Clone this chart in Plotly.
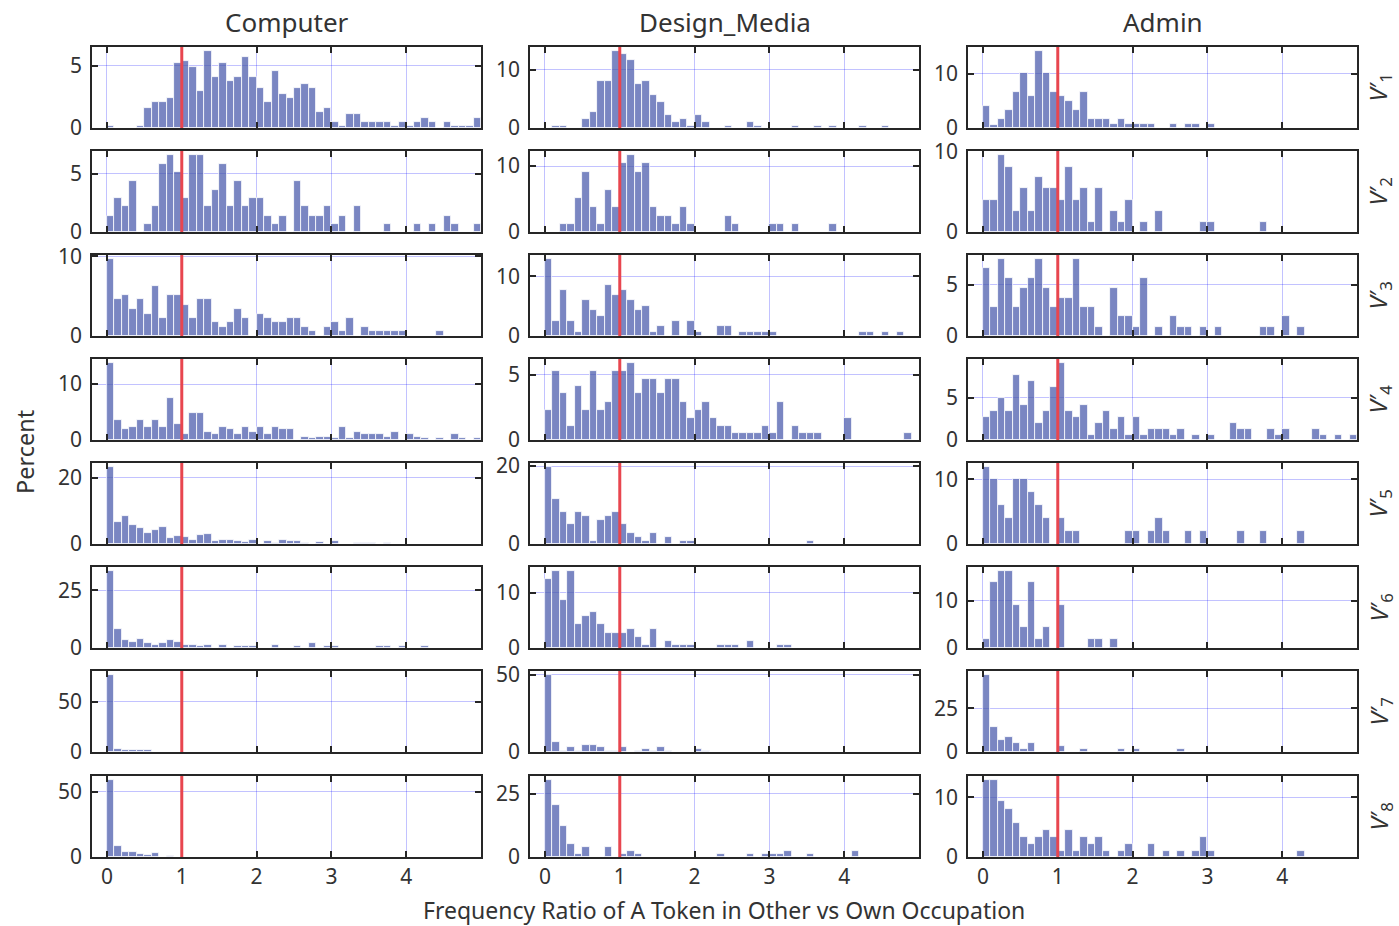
import plotly.graph_objects as go

# ---------------- data (percent per 0.1-wide bin, bins start at 0) ----------------
N_BINS = 50
BIN_WIDTH = 0.1

occupations = ["Computer", "Design_Media", "Admin"]
row_names = ["1", "2", "3", "4", "5", "6", "7", "8"]

computer_v1 = [0.2, 0, 0, 0, 0.2, 1.6, 2.1, 2.1, 2.4, 5.2,
               5.4, 4.9, 3.0, 6.2, 4.1, 5.2, 3.8, 4.1, 5.7, 4.1,
               3.2, 2.1, 4.6, 2.7, 2.4, 3.2, 3.5, 3.2, 1.3, 1.6,
               0.5, 0.2, 1.1, 1.1, 0.5, 0.5, 0.5, 0.5, 0.2, 0.5,
               0.2, 0.5, 0.8, 0.5, 0, 0.5, 0.2, 0.2, 0.2, 0.8]
computer_v2 = [1.4, 2.9, 2.2, 4.4, 0, 0.7, 2.2, 5.8, 6.6, 5.1,
               2.9, 6.6, 6.6, 2.2, 3.6, 5.8, 2.2, 4.4, 2.2, 2.9,
               2.9, 1.4, 0.7, 1.4, 0, 4.4, 2.2, 1.4, 1.4, 2.2,
               0.7, 1.4, 0, 2.2, 0, 0, 0, 0.7, 0, 0,
               0, 0.7, 0, 0.7, 0, 1.4, 0.7, 0, 0, 0.7]
computer_v3 = [9.7, 4.6, 5.1, 3.4, 4.6, 2.8, 6.3, 2.3, 5.1, 5.1,
               3.9, 2.3, 4.6, 4.6, 1.7, 1.1, 1.7, 3.4, 2.3, 0,
               2.8, 2.3, 1.7, 1.7, 2.3, 2.3, 1.1, 0.6, 0, 1.1,
               1.7, 0.6, 2.3, 0, 1.1, 0.6, 0.6, 0.6, 0.6, 0.6,
               0, 0, 0, 0, 0.6]
computer_v4 = [13.8, 3.6, 2.0, 2.3, 3.6, 2.3, 3.6, 2.3, 7.5, 2.8,
               1.1, 4.9, 4.9, 1.5, 1.1, 2.3, 2.0, 1.1, 2.3, 1.5,
               2.3, 1.1, 2.3, 2.0, 2.0, 0, 0.6, 0.3, 0.6, 0.6,
               0.3, 2.3, 0.3, 1.5, 1.1, 1.1, 1.1, 0.6, 1.5, 0,
               1.1, 0.6, 0.3, 0, 0.3, 0, 1.1, 0.3, 0, 0.3]
computer_v5 = [23.2, 6.6, 8.4, 5.7, 4.8, 3.4, 4.1, 5.0, 1.8, 2.5,
               2.1, 1.3, 2.7, 3.1, 1.0, 1.3, 1.3, 1.0, 0.7, 1.3,
               0, 1.0, 0.4, 1.3, 1.0, 1.0, 0.4, 0, 0.7, 0,
               1.0, 0, 0, 0.4, 0.4, 0.4, 0, 0.4]
computer_v6 = [33.4, 8.3, 3.4, 2.8, 4.0, 2.1, 1.5, 2.1, 3.4, 2.8,
               1.5, 1.5, 0.9, 1.5, 0, 1.5, 0, 0.9, 0.9, 0.9,
               0, 0, 1.5, 0, 0, 0.9, 0, 2.1, 0, 0.9,
               0.9, 0, 0, 0, 0, 0, 0.9, 0.9, 0, 0.9,
               0, 0, 0.9]
computer_v7 = [77, 3.4, 1.7, 1.7, 2.4, 1.7, 0.3, 0.3]
computer_v8 = [59, 8.2, 4.2, 3.7, 2.1, 1.3, 2.9, 0, 1.0]

design_v1 = [0, 0.4, 0.4, 0, 0, 1.6, 2.8, 8.1, 8.1, 13.2,
             12.6, 11.6, 7.5, 8.1, 5.7, 4.5, 2.2, 1.0, 1.6, 0.4,
             2.2, 1.0, 0, 0, 0.4, 0, 0, 1.0, 0.4, 0,
             0, 0, 0, 0.4, 0, 0, 0.4, 0, 0.4, 0,
             0, 0, 0.4, 0, 0, 0.4]
design_v2 = [0, 0, 1.2, 1.2, 5.1, 9.1, 3.8, 1.2, 6.4, 3.8,
             10.4, 11.7, 9.1, 10.4, 3.8, 2.5, 2.5, 1.2, 3.8, 1.2,
             0, 0, 0, 0, 2.5, 1.2, 0, 0, 0, 0,
             1.2, 1.2, 0, 1.2, 0, 0, 0, 0, 1.2]
design_v3 = [12.9, 2.5, 7.7, 2.5, 0.7, 6.0, 4.3, 3.4, 8.6, 6.9,
             7.7, 6.0, 4.3, 5.1, 0.7, 1.7, 0, 2.5, 0, 2.5,
             0.7, 0, 0, 1.7, 1.7, 0, 0.7, 0.7, 0.7, 0.7,
             0.7, 0, 0, 0, 0, 0, 0, 0, 0, 0,
             0, 0, 0.7, 0.7, 0, 0.7, 0, 0.7]
design_v4 = [2.3, 5.3, 3.6, 1.1, 4.1, 2.3, 5.3, 2.3, 2.9, 5.3,
             5.3, 5.9, 3.6, 4.7, 4.7, 3.6, 4.7, 4.7, 2.9, 1.7,
             2.3, 2.9, 1.7, 1.1, 1.1, 0.5, 0.5, 0.5, 0.5, 1.1,
             0.5, 2.9, 0, 1.1, 0.5, 0.5, 0.5, 0, 0, 0,
             1.7, 0, 0, 0, 0, 0, 0, 0, 0.5]
design_v5 = [19.8, 11.6, 8.3, 5.1, 8.3, 7.2, 0.8, 6.1, 7.2, 8.3,
             5.1, 2.9, 1.9, 0.8, 2.9, 0, 1.9, 0, 0.8, 0.8,
             0, 0, 0, 0, 0, 0, 0, 0, 0, 0,
             0, 0, 0, 0, 0, 0.8]
design_v6 = [12.5, 14.0, 8.8, 14.0, 4.3, 5.8, 6.6, 4.3, 2.8, 2.8,
             2.8, 3.5, 2.0, 0.6, 3.5, 0, 1.3, 0.6, 0.6, 0.6,
             0, 0, 0, 0.6, 0.6, 0.6, 0, 1.3, 0, 0,
             0, 0.6, 0.6]
design_v7 = [50, 6.7, 0.4, 3.1, 0.9, 4.4, 4.4, 3.1, 0.6, 0.6,
             3.1, 0, 0.4, 1.8, 0.4, 3.1, 0.4, 0.3, 0.3, 0.3,
             1.8, 0.4, 0, 0, 0, 0.3, 0.3]
design_v8 = [30.6, 20.8, 12.2, 5.2, 1.1, 3.8, 0, 0, 3.8, 0,
             1.1, 2.3, 1.1, 0, 0, 0, 0, 0, 0, 0,
             0, 0, 0, 1.1, 0, 0, 0, 1.1, 0, 1.1,
             1.1, 1.1, 2.3, 0, 0, 1.1, 0, 0, 0, 0,
             0, 2.3]

admin_v1 = [4.1, 0.6, 1.6, 3.3, 6.6, 10.1, 5.8, 14.2, 10.1, 6.6,
            5.8, 4.9, 3.3, 6.6, 1.6, 1.6, 1.6, 0.8, 1.6, 0.8,
            0.8, 0.8, 0.8, 0, 0, 0.8, 0, 0.8, 0.8, 0,
            0.8]
admin_v2 = [4.0, 4.0, 9.5, 8.1, 2.6, 5.4, 2.6, 6.8, 5.4, 5.4,
            4.0, 8.1, 4.0, 5.4, 1.3, 5.4, 0, 2.6, 1.3, 4.0,
            0, 1.3, 0, 2.6, 0, 0, 0, 0, 0, 1.3,
            1.3, 0, 0, 0, 0, 0, 0, 1.3]
admin_v3 = [6.6, 2.8, 7.5, 5.6, 2.8, 4.7, 5.6, 7.5, 4.7, 2.8,
            3.7, 3.7, 7.5, 2.8, 2.8, 0.9, 0, 4.7, 1.9, 1.9,
            0.9, 5.6, 0, 0.9, 0, 1.9, 0.9, 0.9, 0, 0.9,
            0, 0.9, 0, 0, 0, 0, 0, 0.9, 0.9, 0,
            1.9, 0, 0.9]
admin_v4 = [2.7, 3.4, 4.9, 3.4, 7.7, 4.1, 7.0, 2.0, 3.4, 6.3,
            9.1, 3.4, 2.7, 4.1, 0.6, 2.0, 3.4, 1.3, 2.7, 0.6,
            2.7, 0.6, 1.3, 1.3, 1.3, 0.6, 1.3, 0, 0.6, 0,
            0.6, 0, 0, 2.0, 1.3, 1.3, 0, 0, 1.3, 0.6,
            1.3, 0, 0, 0, 1.3, 0.6, 0, 0.6, 0, 0.6]
admin_v5 = [11.9, 10.0, 6.0, 4.0, 10.0, 10.0, 8.0, 6.0, 4.0, 0,
            4.0, 2.0, 2.0, 0, 0, 0, 0, 0, 0, 2.0,
            2.0, 0, 2.0, 4.0, 2.0, 0, 0, 2.0, 0, 2.0,
            0, 0, 0, 0, 2.0, 0, 0, 2.0, 0, 0,
            0, 0, 2.0]
admin_v6 = [2.0, 13.9, 16.3, 16.3, 9.1, 4.5, 13.9, 2.0, 4.5, 0,
            9.1, 0, 0, 0, 2.0, 2.0, 0, 2.0]
admin_v7 = [44.1, 14.3, 6.8, 8.8, 4.9, 1.6, 4.9, 0, 0, 0,
            3.3, 0, 0, 1.6, 0, 0, 0, 0, 1.6, 0,
            1.6, 0, 0, 0, 0, 0, 1.6]
admin_v8 = [12.9, 12.9, 9.3, 8.1, 5.7, 3.3, 2.2, 3.3, 4.5, 3.3,
            1.0, 4.5, 1.0, 3.3, 2.2, 3.3, 1.0, 0, 1.0, 2.2,
            0, 0, 2.2, 0, 1.0, 0, 1.0, 0, 1.0, 3.3,
            1.0, 0, 0, 0, 0, 0, 0, 0, 0, 0,
            0, 0, 1.0]

computer_yticks = [5, 5, 10, 10, 20, 25, 50, 50]
design_yticks = [10, 10, 10, 5, 20, 10, 50, 25]
admin_yticks = [10, 10, 5, 5, 10, 10, 25, 10]

x_tick_labels = [0, 1, 2, 3, 4]
reference_ratio = 1.0

# ---------------- build ----------------
series = {
    "Computer": [computer_v1, computer_v2, computer_v3, computer_v4,
                 computer_v5, computer_v6, computer_v7, computer_v8],
    "Design_Media": [design_v1, design_v2, design_v3, design_v4,
                     design_v5, design_v6, design_v7, design_v8],
    "Admin": [admin_v1, admin_v2, admin_v3, admin_v4,
              admin_v5, admin_v6, admin_v7, admin_v8],
}
yticks = {"Computer": computer_yticks, "Design_Media": design_yticks, "Admin": admin_yticks}

W, H = 1399, 926
col_px = [(92, 481), (530, 919), (968, 1357)]
row_top = [47, 151, 255, 359, 463, 567, 671, 776]
row_h = 81

bin_centers = [(i + 0.5) * BIN_WIDTH for i in range(N_BINS)]

FONT = "Noto Sans"
DARK = "#262626"
TXT = "#333333"
GRID = "rgba(0,0,255,0.24)"
BAR = "rgba(65,82,168,0.7)"
RED = "#e8464f"

fig = go.Figure()
layout = {}
shapes = []
annotations = []

for c, occ in enumerate(occupations):
    for r in range(8):
        idx = r * 3 + c + 1
        xname = "x" if idx == 1 else f"x{idx}"
        yname = "y" if idx == 1 else f"y{idx}"
        vals = list(series[occ][r]) + [0] * (N_BINS - len(series[occ][r]))
        fig.add_trace(go.Bar(
            x=bin_centers, y=vals, width=BIN_WIDTH,
            xaxis=xname, yaxis=yname,
            marker=dict(color=BAR, line=dict(color="white", width=0.8)),
            showlegend=False, hoverinfo="skip",
        ))
        x0, x1 = col_px[c]
        yt = row_top[r]
        xd = [x0 / W, x1 / W]
        yd = [1 - (yt + row_h) / H, 1 - yt / H]
        ymax = max(max(vals) * 1.05, yticks[occ][r] * 1.004)
        common = dict(
            showline=True, mirror="ticks", linecolor=DARK, linewidth=1.5,
            ticks="inside", ticklen=6, tickwidth=1.5, tickcolor=DARK,
            showgrid=True, gridcolor=GRID, gridwidth=1.3,
            tickfont=dict(family=FONT, size=21, color=TXT),
        )
        layout["xaxis" if idx == 1 else f"xaxis{idx}"] = dict(
            domain=xd, anchor=yname, range=[-0.2, 5.0],
            tickvals=x_tick_labels, showticklabels=(r == 7),
            zeroline=True, zerolinecolor=GRID, zerolinewidth=1.3,
            **common)
        layout["yaxis" if idx == 1 else f"yaxis{idx}"] = dict(
            domain=yd, anchor=xname, range=[0, ymax],
            tickvals=[0, yticks[occ][r]], zeroline=False,
            ticklabelstandoff=4,
            **common)
        shapes.append(dict(type="line", xref=xname, yref=f"{yname} domain",
                           x0=reference_ratio, x1=reference_ratio, y0=0, y1=1,
                           line=dict(color=RED, width=3)))

# column titles
for c, occ in enumerate(occupations):
    annotations.append(dict(text=occ, x=(col_px[c][0] + col_px[c][1]) / 2 / W, y=1 - 22 / H,
                            xref="paper", yref="paper", showarrow=False,
                            font=dict(family=FONT, size=26, color=TXT),
                            xanchor="center", yanchor="middle"))
# row labels
for r, rn in enumerate(row_names):
    annotations.append(dict(text=f"<i>V</i>′<sub>{rn}</sub>", x=1379 / W,
                            y=1 - (row_top[r] + row_h / 2) / H,
                            xref="paper", yref="paper", showarrow=False, textangle=-90,
                            font=dict(family=FONT, size=24, color=TXT),
                            xanchor="center", yanchor="middle"))
# axis titles
annotations.append(dict(text="Percent", x=25 / W, y=1 - 452 / H, xref="paper", yref="paper",
                        showarrow=False, textangle=-90,
                        font=dict(family=FONT, size=23.5, color=TXT),
                        xanchor="center", yanchor="middle"))
annotations.append(dict(text="Frequency Ratio of A Token in Other vs Own Occupation",
                        x=724 / W, y=1 - 910 / H, xref="paper", yref="paper",
                        showarrow=False, font=dict(family=FONT, size=23, color=TXT),
                        xanchor="center", yanchor="middle"))

fig.update_layout(
    width=W, height=H, autosize=False,
    margin=dict(l=0, r=0, t=0, b=0, autoexpand=False),
    paper_bgcolor="white", plot_bgcolor="white",
    bargap=0, shapes=shapes, annotations=annotations,
    **layout,
)

fig.write_html("out.html")
